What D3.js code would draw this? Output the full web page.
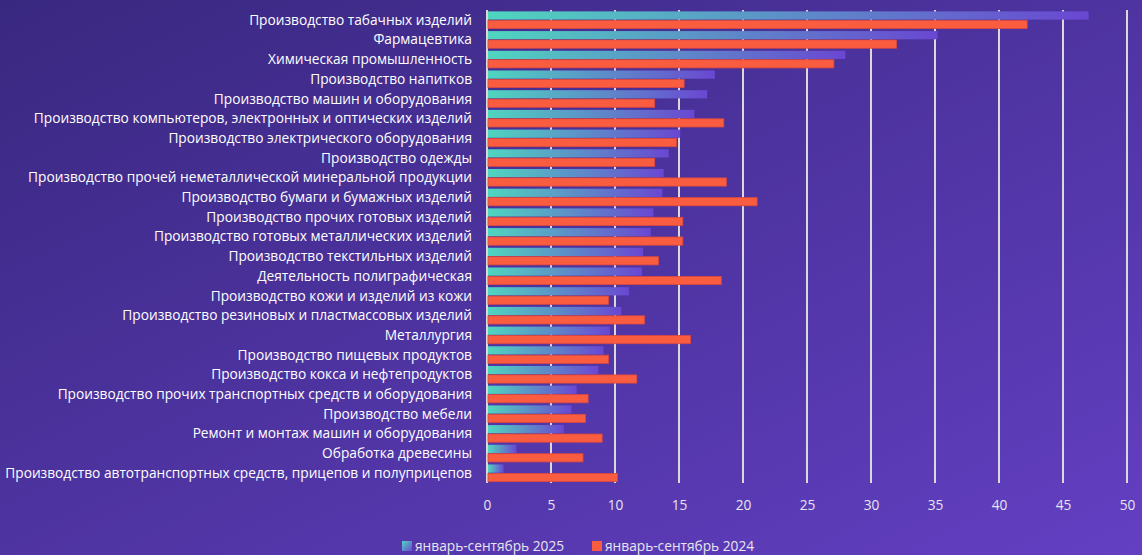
<!DOCTYPE html>
<html>
<head>
<meta charset="utf-8">
<title>Производство</title>
<style>
  body { margin: 0; overflow: hidden; }
  text { font-family: "Open Sans", sans-serif; }
</style>
</head>
<body>
<script src="https://d3js.org/d3.v7.min.js"></script>
<script>

var categories = [
  "Производство табачных изделий",
  "Фармацевтика",
  "Химическая промышленность",
  "Производство напитков",
  "Производство машин и оборудования",
  "Производство компьютеров, электронных и оптических изделий",
  "Производство электрического оборудования",
  "Производство одежды",
  "Производство прочей неметаллической минеральной продукции",
  "Производство бумаги и бумажных изделий",
  "Производство прочих готовых изделий",
  "Производство готовых металлических изделий",
  "Производство текстильных изделий",
  "Деятельность полиграфическая",
  "Производство кожи и изделий из кожи",
  "Производство резиновых и пластмассовых изделий",
  "Металлургия",
  "Производство пищевых продуктов",
  "Производство кокса и нефтепродуктов",
  "Производство прочих транспортных средств и оборудования",
  "Производство мебели",
  "Ремонт и монтаж машин и оборудования",
  "Обработка древесины",
  "Производство автотранспортных средств, прицепов и полуприцепов"
];

var values2025 = [47.0, 35.2, 28.0, 17.8, 17.2, 16.2, 15.1, 14.2, 13.8, 13.7, 13.0, 12.8,
                  12.2, 12.1, 11.1, 10.5, 9.6, 9.1, 8.7, 7.0, 6.6, 6.0, 2.3, 1.3];
var values2024 = [42.2, 32.0, 27.1, 15.4, 13.1, 18.5, 14.8, 13.1, 18.7, 21.1, 15.3, 15.3,
                  13.4, 18.3, 9.5, 12.3, 15.9, 9.5, 11.7, 7.9, 7.7, 9.0, 7.5, 10.2];

var seriesNames = ["январь-сентябрь 2025", "январь-сентябрь 2024"];
var ticks = [0, 5, 10, 15, 20, 25, 30, 35, 40, 45, 50];

var W = 1142, H = 555;

var svg = d3.select("body").append("svg")
    .attr("width", W)
    .attr("height", H);

var defs = svg.append("defs");

var bg = defs.append("linearGradient").attr("id", "bg")
    .attr("x1", 0).attr("y1", 0).attr("x2", 1).attr("y2", 1);
bg.append("stop").attr("offset", "0%").attr("stop-color", "#392880");
bg.append("stop").attr("offset", "100%").attr("stop-color", "#633fc2");

// bars: teal on the left to purple on the right
var barGrad = defs.append("linearGradient").attr("id", "bar25")
    .attr("x1", 0).attr("y1", 0).attr("x2", 1).attr("y2", 0);
barGrad.append("stop").attr("offset", "0%").attr("stop-color", "#4fd6bf");
barGrad.append("stop").attr("offset", "100%").attr("stop-color", "#6a47d2");

// legend swatch: diagonal
var swGrad = defs.append("linearGradient").attr("id", "sw25")
    .attr("x1", 0).attr("y1", 0).attr("x2", 1).attr("y2", 1);
swGrad.append("stop").attr("offset", "0%").attr("stop-color", "#4fd6bf");
swGrad.append("stop").attr("offset", "100%").attr("stop-color", "#6a47d2");

svg.append("rect").attr("width", W).attr("height", H).attr("fill", "url(#bg)");

var x = d3.scaleLinear().domain([0, 50]).range([487, 1127]);

var y = d3.scaleBand()
    .domain(categories)
    .range([10, 483])
    .paddingInner(0.13)
    .paddingOuter(0.07);

var sub = d3.scaleBand()
    .domain(seriesNames)
    .range([0, y.bandwidth()])
    .paddingInner(0.08);

// grid lines
svg.append("g")
  .selectAll("line")
  .data(ticks)
  .join("line")
    .attr("x1", d => x(d)).attr("x2", d => x(d))
    .attr("y1", 10).attr("y2", 483)
    .attr("stroke", "#d9d9d9")
    .attr("stroke-width", 2);

// bars
var rows = categories.map((c, i) => ({ cat: c, v25: values2025[i], v24: values2024[i] }));

svg.append("g").selectAll("rect")
  .data(rows)
  .join("rect")
    .attr("x", x(0) + 1)
    .attr("y", d => y(d.cat) + sub(seriesNames[0]))
    .attr("width", d => x(d.v25) - x(0) - 1)
    .attr("height", sub.bandwidth())
    .attr("fill", "url(#bar25)");

svg.append("g").selectAll("rect")
  .data(rows)
  .join("rect")
    .attr("x", x(0) + 1)
    .attr("y", d => y(d.cat) + sub(seriesNames[1]))
    .attr("width", d => x(d.v24) - x(0) - 1)
    .attr("height", sub.bandwidth())
    .attr("fill", "#fa5c40")
    .attr("stroke", "#d9483f")
    .attr("stroke-width", 0.8);

// category labels
var labels = svg.append("g").selectAll("text")
  .data(categories)
  .join("text")
    .attr("x", 472)
    .attr("y", d => y(d) + y.bandwidth() / 2)
    .attr("dy", "0.35em")
    .attr("text-anchor", "end")
    .attr("fill", "#ffffff")
    .attr("font-size", 13.5)
    .text(d => d);

// fit the longest label to the same width as in the picture
var longest = d3.max(labels.nodes(), n => n.getComputedTextLength());
var fs = 13.5 * 467 / longest;
labels.attr("font-size", fs);

// x axis ticks
var axis = svg.append("g")
    .attr("transform", "translate(0,505)")
    .call(d3.axisBottom(x).tickValues(ticks).tickSize(0).tickPadding(0));
axis.select(".domain").remove();
axis.selectAll("text")
    .attr("fill", "#e6e6ee")
    .attr("font-size", fs)
    .attr("dy", "0.35em")
    .style("font-family", "'Open Sans', sans-serif");

// legend
var legend = svg.append("g");
var lx = [402, 592];
var fills = ["url(#sw25)", "#fa5c40"];
seriesNames.forEach(function(name, i) {
  legend.append("rect")
    .attr("x", lx[i]).attr("y", 541)
    .attr("width", 10).attr("height", 10)
    .attr("fill", fills[i]);
  legend.append("text")
    .attr("x", lx[i] + 13).attr("y", 546)
    .attr("dy", "0.35em")
    .attr("fill", "#e6e6ee")
    .attr("font-size", fs)
    .text(name);
});

</script>
</body>
</html>
